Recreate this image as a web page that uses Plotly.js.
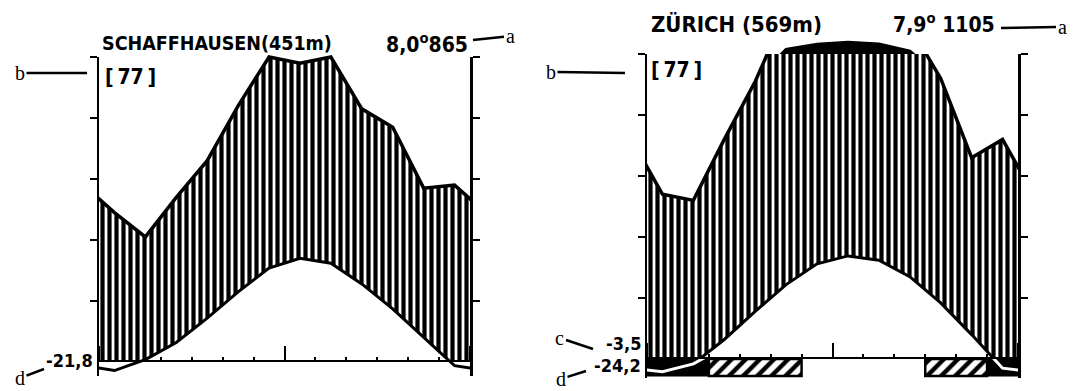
<!DOCTYPE html>
<html><head><meta charset="utf-8">
<script src="https://cdn.plot.ly/plotly-3.0.1.min.js"></script>
<style>html,body{margin:0;padding:0;background:#fff}#chart{width:1075px;height:391px}</style>
</head><body><div id="chart"></div>
<script>
// ---------------- data ----------------
const months = ['Jan','Feb','Mär','Apr','Mai','Jun','Jul','Aug','Sep','Okt','Nov','Dez'];
// Schaffhausen
const schTemp = [-1.4, 0.4, 3.2, 7.2, 11.5, 15.4, 17.0, 16.2, 12.8, 8.7, 4.1, -0.6];   // °C
const schPrec = [49, 41, 54, 66, 84, 100, 98, 100, 83, 77, 57, 58];                    // mm
const schFrost = ['none','none','none','none','none','none','none','none','none','none','none','none'];
// Zürich
const zurTemp = [-2.1, -0.8, 3.2, 7.8, 12.2, 15.6, 16.9, 16.2, 13.5, 9.2, 4.0, -1.5];
const zurPrec = [54, 52, 72, 91, 114, 131, 138, 132, 109, 92, 66, 72];
const zurFrost = ['black','black','hatch','hatch','hatch','none','none','none','none','hatch','hatch','black'];
// labels
const stationNames = ['SCHAFFHAUSEN(451m)', 'ZÜRICH (569m)'];
const meanTempLabels = ['8,0', '7,9'];
const annualPrecLabels = ['865', '1105'];
const yearLabels = ['[\u200977\u2009]', '[\u200977\u2009]'];
const meanMinLabels = ['', '-3,5'];
const absMinLabels = ['-21,8', '-24,2'];
const pointerLetters = ['a', 'b', 'c', 'd'];

// ---------------- layout geometry ----------------
const W = 1075, H = 391;
const PPU = 6.1; // pixels per °C (= per 2 mm)
const fx = px => px / W;
const fy = py => 1 - py / H;

const panels = [
  {temp: schTemp, prec: schPrec, frost: schFrost, xL: 99, xR: 470, base: 362, bottom: 376, barPx: 14, belowColor: '#000',
   name: [100, 44], nameSize: 19.5, tp: [470, 43], a: [510, 36, 473, 40], b: [20, 73, 87, 73], yr: [103, 77],
   c: null, cLab: null, dLab: [95, 360], d: [20, 378, 44, 369]},
  {temp: zurTemp, prec: zurPrec, frost: zurFrost, xL: 647, xR: 1018, base: 359, bottom: 378, barPx: 17, belowColor: '#fff',
   name: [649, 25], nameSize: 22, tp: [997, 23], a: [1062, 27, 1001, 28], b: [551, 72, 625, 73], yr: [649, 70],
   c: [560, 338, 593, 349], cLab: [643, 343], dLab: [643, 365], d: [561, 379, 586, 371]}
];

const baseFont = {family: '"DejaVu Sans Condensed", "DejaVu Sans", sans-serif', size: 21, color: '#000', weight: 'bold'};
const letterFont = {family: '"Liberation Serif", "DejaVu Serif", serif', size: 20, color: '#000'};
const withSize = s => Object.assign({}, baseFont, {size: s});

const traces = [];
const layout = {
  width: W, height: H, margin: {l: 0, r: 0, t: 0, b: 0},
  paper_bgcolor: '#fff', plot_bgcolor: 'rgba(0,0,0,0)',
  showlegend: false, annotations: [], hovermode: false
};

const xsWrap = [-0.5].concat(months.map((m, i) => i + 0.5), [12.5]);
const wrap = v => [v[v.length - 1]].concat(v, [v[0]]);

panels.forEach((p, i) => {
  const xn = i === 0 ? '' : String(i + 1);
  const xid = 'x' + xn;
  const yn = k => (i * 4 + k === 1) ? '' : String(i * 4 + k);
  const [F, Hh, C, S] = [1, 2, 3, 4].map(k => 'y' + yn(k));
  const ax = id => id.replace('y', 'yaxis');
  const top50 = p.base - 50 * PPU;
  const belowRange = -(p.bottom - p.base) / PPU;

  layout['xaxis' + xn] = {
    domain: [fx(p.xL), fx(p.xR)], range: [0, 12], anchor: S, side: 'top',
    showline: true, linecolor: '#000', linewidth: 2.5, showgrid: false, zeroline: false,
    ticks: 'outside', tick0: 0, dtick: 6, ticklen: 14, tickwidth: 2, tickcolor: '#000',
    minor: {ticks: 'outside', dtick: 1, tick0: 0, ticklen: 3, tickwidth: 2, tickcolor: '#000', showgrid: false},
    showticklabels: false, fixedrange: true
  };
  const hidden = (dom, rng) => ({domain: dom, range: rng, anchor: xid, visible: false, fixedrange: true});
  layout[ax(F)] = {
    domain: [fy(p.bottom), fy(top50)], range: [belowRange, 50], anchor: xid,
    showline: true, linecolor: '#000', linewidth: 2.5, mirror: 'ticks',
    ticks: 'outside', tickvals: [10, 20, 30, 40, 50], ticklen: 7, tickwidth: 2.5, tickcolor: '#000',
    showticklabels: false, showgrid: false, zeroline: false, fixedrange: true
  };
  layout[ax(Hh)] = hidden([fy(p.base), fy(top50)], [0, 50]);
  layout[ax(C)] = hidden([fy(top50), 1], [50, 50 + top50 / PPU]);
  layout[ax(S)] = hidden([fy(p.bottom), fy(p.base)], [belowRange, 0]);

  const tempW = wrap(p.temp);
  const precNormal = wrap(p.prec.map(v => v / 2));
  const precReduced = wrap(p.prec.map(v => v <= 100 ? v / 2 : 50 + (v - 100) / 20));

  // frame dummy
  traces.push({x: xsWrap, y: tempW, xaxis: xid, yaxis: F, mode: 'none', hoverinfo: 'skip'});
  // humid (hatched) area between temperature and precipitation
  traces.push({x: xsWrap, y: tempW, xaxis: xid, yaxis: Hh, mode: 'lines', line: {color: '#000', width: 3}, hoverinfo: 'skip'});
  traces.push({x: xsWrap, y: precNormal, xaxis: xid, yaxis: Hh, mode: 'lines', fill: 'tonexty',
    fillcolor: '#fff',
    fillpattern: {shape: '|', size: 7, solidity: 0.6, fgcolor: '#000', bgcolor: '#fff', fillmode: 'replace'},
    line: {color: '#000', width: 3.5}, hoverinfo: 'skip'});
  // > 100 mm (reduced scale, black)
  traces.push({x: xsWrap, y: precReduced, xaxis: xid, yaxis: C, mode: 'lines', fill: 'tozeroy',
    fillcolor: '#000', line: {color: '#000', width: 3.5}, hoverinfo: 'skip'});
  // frost bars below the baseline
  const depth = p.barPx / PPU;
  let k = 0;
  while (k < 12) {
    const t = p.frost[k];
    let j = k;
    while (j + 1 < 12 && p.frost[j + 1] === t) j++;
    if (t !== 'none') {
      const poly = {x: [k, j + 1, j + 1, k, k], y: [0, 0, -depth, -depth, 0], xaxis: xid, yaxis: S,
        mode: 'lines', fill: 'toself', hoverinfo: 'skip'};
      if (t === 'black') { poly.fillcolor = '#000'; poly.line = {color: '#000', width: 1}; }
      else {
        poly.fillcolor = '#fff';
        poly.fillpattern = {shape: '/', size: 10, solidity: 0.45, fgcolor: '#000', bgcolor: '#fff', fillmode: 'replace'};
        poly.line = {color: '#000', width: 2.5};
      }
      traces.push(poly);
    }
    k = j + 1;
  }
  // temperature below zero
  traces.push({x: xsWrap, y: tempW, xaxis: xid, yaxis: S, mode: 'lines', line: {color: p.belowColor, width: 3}, hoverinfo: 'skip'});

  // ---- texts ----
  const A = layout.annotations;
  const txt = (t, xy, xa, font) => A.push({text: t, xref: 'paper', yref: 'paper', x: fx(xy[0]), y: fy(xy[1]),
    xanchor: xa, yanchor: 'middle', showarrow: false, font: font});
  const ptr = (t, d) => A.push({text: t, xref: 'paper', yref: 'paper', x: fx(d[2]), y: fy(d[3]),
    ax: d[0] - d[2], ay: d[1] - d[3], showarrow: true, arrowhead: 0, arrowwidth: 2.5, arrowcolor: '#000',
    standoff: 0, startstandoff: 0, font: letterFont});
  txt(stationNames[i], p.name, 'left', withSize(p.nameSize));
  txt(meanTempLabels[i] + '<sup>o</sup>' + (i === 1 ? ' ' : '') + annualPrecLabels[i], p.tp, 'right', baseFont);
  txt(yearLabels[i], p.yr, 'left', baseFont);
  txt(absMinLabels[i], p.dLab, 'right', withSize(18));
  if (p.cLab) txt(meanMinLabels[i], p.cLab, 'right', withSize(18));
  ptr(pointerLetters[0], p.a);
  ptr(pointerLetters[1], p.b);
  if (p.c) ptr(pointerLetters[2], p.c);
  ptr(pointerLetters[3], p.d);
});

Plotly.newPlot('chart', traces, layout, {staticPlot: true, displayModeBar: false});
</script>
</body></html>
